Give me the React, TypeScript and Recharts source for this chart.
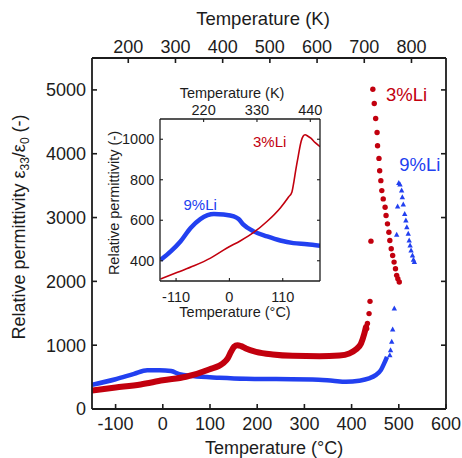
import React from "react";
import {
  ComposedChart,
  LineChart,
  Line,
  Scatter,
  XAxis,
  YAxis,
  ReferenceDot,
} from "recharts";

const RED = "#c2000e";
const BLUE = "#2240f0";
const INK = "#1c1c1c";
const FONT = "'Liberation Sans', Arial, Helvetica, sans-serif";

// main plot: temperature (°C) vs eps33/eps0
// 3%Li, dense part (drawn as a thick band) and sparse dots near Tc
const li3BandT = [-150, -100, -47, 0, 49, 98, 127, 137.5, 144.5, 151, 158, 166, 176, 197.5, 233, 275, 332, 374, 395, 409, 420, 427, 430.5];
const li3BandEps = [290, 336, 385, 450, 505, 620, 714, 792, 896, 975, 1000, 985, 948, 896, 854, 833, 828, 839, 870, 932, 1026, 1182, 1286];
const li3DotT = [432, 433.5, 437, 439, 441, 445, 448, 451, 454, 455, 458, 459.5, 462, 464, 467, 471, 473, 476, 479, 481, 484, 487, 490, 493, 495.5, 498, 501];
const li3DotEps = [1260, 1340, 1495, 1687, 2630, 5010, 4786, 4552, 4333, 4125, 3927, 3734, 3578, 3422, 3292, 3161, 3031, 2901, 2770, 2640, 2511, 2406, 2302, 2198, 2094, 2040, 1989];

// 9%Li
const li9BandT = [-150, -100, -61, -33, -7, 17.6, 35, 63.6, 120, 176, 240, 317, 360, 388, 416, 437, 451, 462, 469, 475];
const li9BandEps = [380, 466, 550, 607, 609, 594, 547, 516, 490, 474, 469, 464, 443, 427, 443, 479, 531, 609, 714, 818];
const li9DotT = [481, 482.5, 485, 487, 490.5, 495.5, 497.5, 500, 502.5, 506, 507.5, 509.5, 512.5, 515, 517, 520, 522, 524, 526, 529, 531, 533];
const li9DotEps = [844, 922, 1052, 1245, 1573, 2729, 3172, 3542, 3516, 3422, 3317, 3203, 3057, 2953, 2849, 2745, 2640, 2562, 2484, 2406, 2339, 2302];

const mainCTicks = [-100, 0, 100, 200, 300, 400, 500, 600];
const mainKTicks = [200, 300, 400, 500, 600, 700, 800];
const mainEpsTicks = [0, 1000, 2000, 3000, 4000, 5000];

// inset: low-temperature region
const inLi3T = [-142, -107, -73, -39, -5, 23, 50, 78, 105, 122, 129, 133, 137, 142, 148, 152, 156, 162, 168, 177, 187];
const inLi3Eps = [310, 343, 375, 413, 463, 499, 540, 595, 661, 715, 740, 790, 850, 917, 990, 1015, 1022, 1015, 1005, 983, 963];
const inLi9T = [-142, -121, -101, -80, -60, -45, -32, -12, 9, 19, 29, 50, 78, 105, 132, 160, 187];
const inLi9Eps = [404, 446, 495, 562, 606, 625, 631, 628, 619, 606, 578, 545, 520, 500, 487, 482, 474];

const inCTicks = [-110, 0, 110];
const inKTicks = [220, 330, 440];
const inEpsTicks = [400, 600, 800, 1000];

const K0 = 273.15;

const zip = (t: number[], e: number[]) => t.map((v, i) => ({ t: v, eps: e[i] }));

type Side = "top" | "bottom" | "left" | "right";

// ticks point into the frame; labels drawn outside
function makeTick(side: Side, len: number, size: number, off: number, width: number, fmt?: (v: number) => string) {
  return (p: any) => {
    const { x, y, payload } = p;
    const txt = fmt ? fmt(payload.value) : String(payload.value);
    const t = { fontFamily: FONT, fontSize: size, fill: INK, stroke: "none" };
    if (side === "bottom")
      return (
        <g>
          <line x1={x} y1={y} x2={x} y2={y - len} stroke={INK} strokeWidth={width} />
          <text {...t} x={x} y={y + off} textAnchor="middle">{txt}</text>
        </g>
      );
    if (side === "top")
      return (
        <g>
          <line x1={x} y1={y} x2={x} y2={y + len} stroke={INK} strokeWidth={width} />
          <text {...t} x={x} y={y - off} textAnchor="middle">{txt}</text>
        </g>
      );
    if (side === "left")
      return (
        <g>
          <line x1={x} y1={y} x2={x + len} y2={y} stroke={INK} strokeWidth={width} />
          <text {...t} x={x - off} y={y + size * 0.36} textAnchor="end">{txt}</text>
        </g>
      );
    return <line x1={x} y1={y} x2={x - len} y2={y} stroke={INK} strokeWidth={width} />;
  };
}

const kFmt = (v: number) => String(Math.round(v + K0));

function Title({ x, y, size, rotate, children }: { x: number; y: number; size: number; rotate?: boolean; children: React.ReactNode }) {
  return (
    <text
      x={0}
      y={0}
      transform={`translate(${x},${y})${rotate ? " rotate(-90)" : ""}`}
      textAnchor="middle"
      fontFamily={FONT}
      fontSize={size}
      fill={INK}
    >
      {children}
    </text>
  );
}

const RedDot = (p: any) => <circle cx={p.cx} cy={p.cy} r={2.7} fill={RED} />;
const BlueTri = (p: any) => (
  <path d={`M${p.cx},${p.cy - 3} L${p.cx + 2.7},${p.cy + 2} L${p.cx - 2.7},${p.cy + 2} Z`} fill={BLUE} />
);

function Inset() {
  const axisLine = { stroke: INK, strokeWidth: 1.3 };
  return (
    <LineChart width={230} height={250} margin={{ top: 0, right: 0, bottom: 0, left: 0 }}>
      <XAxis
        xAxisId="c"
        dataKey="t"
        type="number"
        domain={[-143.15, 186.85]}
        allowDataOverflow
        ticks={inCTicks}
        interval={0}
        height={44}
        tickSize={0}
        tickMargin={0}
        axisLine={axisLine}
        tickLine={false}
        tick={makeTick("bottom", 3, 14.5, 20.5, 1.1)}
        label={() => <Title x={135} y={241.5} size={14.5}>Temperature (°C)</Title>}
      />
      <XAxis
        xAxisId="k"
        dataKey="t"
        orientation="top"
        type="number"
        domain={[-143.15, 186.85]}
        allowDataOverflow
        ticks={inKTicks.map((k) => k - K0)}
        interval={0}
        height={44}
        tickSize={0}
        tickMargin={0}
        axisLine={axisLine}
        tickLine={false}
        tick={makeTick("top", 3, 14.5, 4.3, 1.1, kFmt)}
        label={() => <Title x={132} y={22.8} size={14.5}>Temperature (K)</Title>}
      />
      <YAxis
        yAxisId="l"
        type="number"
        domain={[300, 1100]}
        allowDataOverflow
        ticks={inEpsTicks}
        interval={0}
        width={60}
        tickSize={0}
        tickMargin={0}
        axisLine={axisLine}
        tickLine={false}
        tick={makeTick("left", 3, 14.5, 5.7, 1.1)}
        label={() => <Title x={18.5} y={128} size={14.5} rotate>Relative permittivity (-)</Title>}
      />
      <YAxis
        yAxisId="r"
        orientation="right"
        type="number"
        domain={[300, 1100]}
        allowDataOverflow
        ticks={inEpsTicks}
        interval={0}
        width={10}
        tickSize={0}
        tickMargin={0}
        axisLine={axisLine}
        tickLine={false}
        tick={makeTick("right", 3, 14.5, 0, 1.1)}
      />
      {/* invisible copy so the top/right axes get their ticks */}
      <Line
        xAxisId="k"
        yAxisId="r"
        data={zip(inLi9T, inLi9Eps)}
        dataKey="eps"
        stroke="none"
        dot={false}
        isAnimationActive={false}
      />
      <Line
        xAxisId="c"
        yAxisId="l"
        data={zip(inLi9T, inLi9Eps)}
        dataKey="eps"
        type="monotone"
        stroke={BLUE}
        strokeWidth={4.5}
        dot={false}
        isAnimationActive={false}
      />
      <Line
        xAxisId="c"
        yAxisId="l"
        data={zip(inLi3T, inLi3Eps)}
        dataKey="eps"
        type="monotone"
        stroke={RED}
        strokeWidth={1.6}
        dot={false}
        isAnimationActive={false}
      />
      <ReferenceDot
        xAxisId="c"
        yAxisId="l"
        x={48.7}
        y={963}
        shape={(p: any) => (
          <text x={p.cx} y={p.cy} fontFamily={FONT} fontSize={15} fill={RED}>3%Li</text>
        )}
      />
      <ReferenceDot
        xAxisId="c"
        yAxisId="l"
        x={-94.6}
        y={650}
        shape={(p: any) => (
          <text x={p.cx} y={p.cy} fontFamily={FONT} fontSize={15} fill={BLUE}>9%Li</text>
        )}
      />
    </LineChart>
  );
}

export default function App() {
  const axisLine = { stroke: INK, strokeWidth: 1.8 };
  return (
    <div style={{ position: "absolute", left: 0, top: 0, width: 462, height: 458, background: "#fff" }}>
      <ComposedChart width={462} height={458} margin={{ top: 0, right: 0, bottom: 0, left: 0 }}>
        <XAxis
          xAxisId="c"
          dataKey="t"
          type="number"
          domain={[-150, 600]}
          allowDataOverflow
          ticks={mainCTicks}
          interval={0}
          height={49}
          tickSize={0}
          tickMargin={0}
          axisLine={axisLine}
          tickLine={false}
          tick={makeTick("bottom", 5, 18, 21, 1.6)}
          label={() => <Title x={274} y={454} size={18}>Temperature (°C)</Title>}
        />
        <XAxis
          xAxisId="k"
          dataKey="t"
          orientation="top"
          type="number"
          domain={[-150, 600]}
          allowDataOverflow
          ticks={mainKTicks.map((k) => k - K0)}
          interval={0}
          height={58}
          tickSize={0}
          tickMargin={0}
          axisLine={axisLine}
          tickLine={false}
          tick={makeTick("top", 5, 18, 5.5, 1.6, kFmt)}
          label={() => <Title x={263} y={25} size={18.5}>Temperature (K)</Title>}
        />
        <YAxis
          yAxisId="l"
          type="number"
          domain={[0, 5500]}
          allowDataOverflow
          ticks={mainEpsTicks}
          interval={0}
          width={92}
          tickSize={0}
          tickMargin={0}
          axisLine={axisLine}
          tickLine={false}
          tick={makeTick("left", 5, 18, 6, 1.6)}
          label={() => (
            <Title x={25} y={227} size={18} rotate>
              Relative permittivity ε
              <tspan dy={4} fontSize={12}>33</tspan>
              <tspan dy={-4}>/ε</tspan>
              <tspan dy={4} fontSize={12}>0</tspan>
              <tspan dy={-4}> (-)</tspan>
            </Title>
          )}
        />
        <YAxis
          yAxisId="r"
          orientation="right"
          type="number"
          domain={[0, 5500]}
          allowDataOverflow
          ticks={mainEpsTicks}
          interval={0}
          width={16}
          tickSize={0}
          tickMargin={0}
          axisLine={axisLine}
          tickLine={false}
          tick={makeTick("right", 5, 18, 0, 1.6)}
        />
        {/* invisible copy so the top/right axes get their ticks */}
        <Line
          xAxisId="k"
          yAxisId="r"
          data={zip(li9BandT, li9BandEps)}
          dataKey="eps"
          stroke="none"
          dot={false}
          isAnimationActive={false}
        />
        <Line
          xAxisId="c"
          yAxisId="l"
          data={zip(li9BandT, li9BandEps)}
          dataKey="eps"
          type="monotone"
          stroke={BLUE}
          strokeWidth={4.5}
          dot={false}
          isAnimationActive={false}
        />
        <Line
          xAxisId="c"
          yAxisId="l"
          data={zip(li3BandT, li3BandEps)}
          dataKey="eps"
          type="monotone"
          stroke={RED}
          strokeWidth={6}
          strokeLinecap="round"
          dot={false}
          isAnimationActive={false}
        />
        <Scatter
          xAxisId="c"
          yAxisId="l"
          data={zip(li9DotT, li9DotEps)}
          dataKey="eps"
          shape={BlueTri}
          isAnimationActive={false}
        />
        <Scatter
          xAxisId="c"
          yAxisId="l"
          data={zip(li3DotT, li3DotEps)}
          dataKey="eps"
          shape={RedDot}
          isAnimationActive={false}
        />
        <ReferenceDot
          xAxisId="c"
          yAxisId="l"
          x={473}
          y={4830}
          shape={(p: any) => (
            <text x={p.cx} y={p.cy} fontFamily={FONT} fontSize={18.5} fill={RED}>3%Li</text>
          )}
        />
        <ReferenceDot
          xAxisId="c"
          yAxisId="l"
          x={501}
          y={3735}
          shape={(p: any) => (
            <text x={p.cx} y={p.cy} fontFamily={FONT} fontSize={18.5} fill={BLUE}>9%Li</text>
          )}
        />
      </ComposedChart>
      <div style={{ position: "absolute", left: 100, top: 75 }}>
        <Inset />
      </div>
    </div>
  );
}
